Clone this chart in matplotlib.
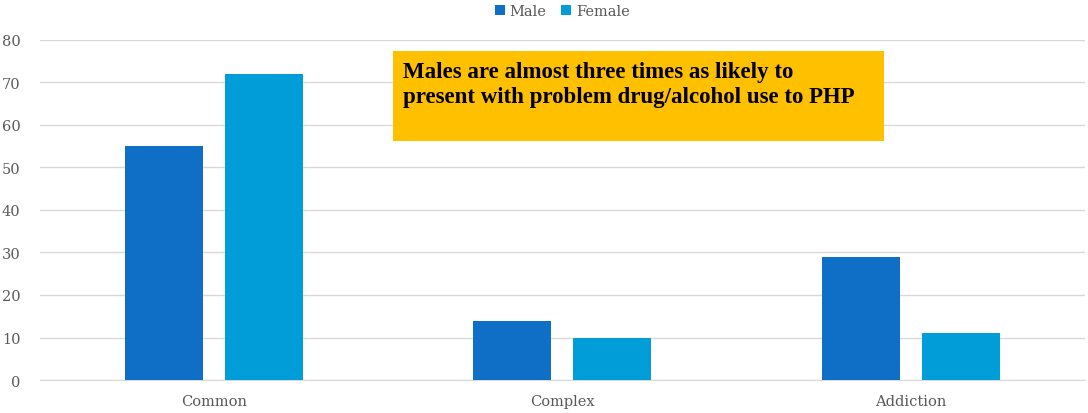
import matplotlib
matplotlib.use('Agg')
from matplotlib import pyplot as plt
from matplotlib.patches import Rectangle
import numpy as np

categories = ['Common', 'Complex', 'Addiction']
male = [55, 14, 29]
female = [72, 10, 11]
note = 'Males are almost three times as likely to\npresent with problem drug/alcohol use to PHP'

plt.rcParams['font.family'] = ['DejaVu Serif']

fig = plt.figure(figsize=(10.88, 4.14), dpi=100)
ax = fig.add_axes([0.0368, 0.0797, 0.9602, 0.8213])

x = np.arange(len(categories))
w = 0.224
ax.bar(x - 0.1435, male, w, color='#0F6FC6', label='Male', zorder=3)
ax.bar(x + 0.1435, female, w, color='#009DD9', label='Female', zorder=3)

ax.set_xlim(-0.5, 2.5)
ax.set_ylim(0, 80)
ax.set_yticks(range(0, 81, 10))
ax.set_xticks(x)
ax.set_xticklabels(categories)
ax.yaxis.grid(True, color='#D9D9D9', lw=1, zorder=0)
for s in ['left', 'right', 'top']:
    ax.spines[s].set_visible(False)
ax.spines['bottom'].set_color('#D9D9D9')
ax.tick_params(axis='both', length=0, colors='#595959', labelsize=10.5)
ax.tick_params(axis='y', pad=14)
ax.tick_params(axis='x', pad=10)

leg = ax.legend(loc='center', bbox_to_anchor=(0.5, 1.085), ncol=2, frameon=False,
                fontsize=10.5, handlelength=0.7, handleheight=0.7, handletextpad=0.3,
                columnspacing=1.0, borderpad=0)
for t in leg.get_texts():
    t.set_color('#595959')

# yellow call-out box
box = Rectangle((393 / 1088, 1 - 142 / 414), (884 - 393) / 1088, 90 / 414,
                transform=fig.transFigure, facecolor='#FFC000', edgecolor='none', zorder=5)
fig.patches.append(box)
fig.text(403 / 1088, 1 - 62 / 414, note, fontsize=16.5, fontweight='bold', color='black',
         family='Liberation Serif', va='top', ha='left', linespacing=1.25, zorder=6)

fig.savefig('out.png', dpi=100)
